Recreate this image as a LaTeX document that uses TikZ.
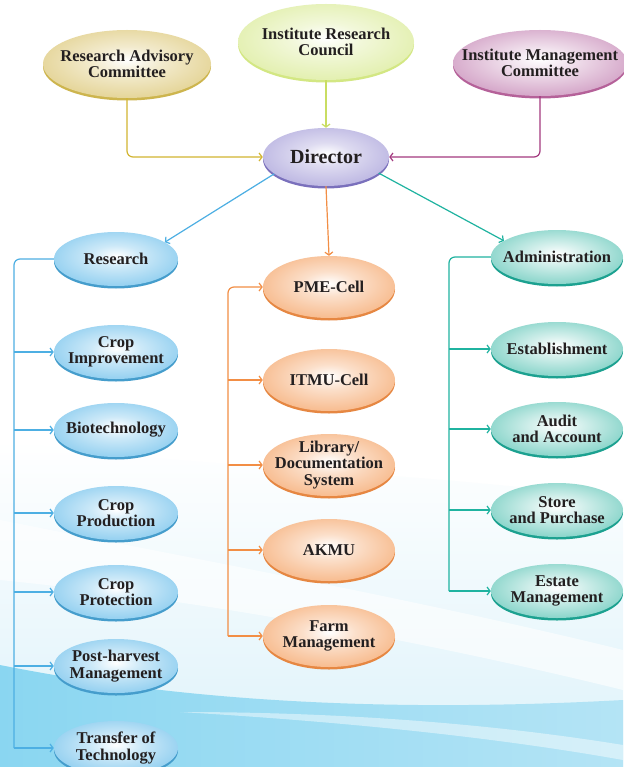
\documentclass[tikz,border=0pt]{standalone}
\usepackage{fontspec}
\setmainfont{Liberation Serif}
\usetikzlibrary{arrows.meta,shapes.geometric,shadows}
\definecolor{txt}{HTML}{231F20}
\definecolor{goldE}{HTML}{D6BD5E}
\definecolor{goldL}{HTML}{D2B531}
\definecolor{goldR}{HTML}{CDB54E}
\definecolor{limeE}{HTML}{D3E783}
\definecolor{limeL}{HTML}{C9DD62}
\definecolor{magE}{HTML}{B05A9A}
\definecolor{magL}{HTML}{A3397F}
\definecolor{dirE}{HTML}{A098D6}
\definecolor{dirR}{HTML}{7A70BC}
\definecolor{bluE}{HTML}{58B6E8}
\definecolor{bluL}{HTML}{4DAFE3}
\definecolor{oraE}{HTML}{F39650}
\definecolor{oraL}{HTML}{F28E45}
\definecolor{tealE}{HTML}{36B7A5}
\definecolor{tealL}{HTML}{1FB3A0}
\definecolor{bgA}{HTML}{DDF2FA}
\definecolor{bgB}{HTML}{8AD6F1}
\definecolor{bgC}{HTML}{B4E4F5}
\pgfdeclareradialshading{shgold}{\pgfpoint{0bp}{3bp}}{color(0bp)=(white); color(10bp)=(goldE!30); color(30bp)=(goldE!70); color(46bp)=(goldE); color(70bp)=(goldE)}
\pgfdeclareradialshading{shlime}{\pgfpoint{0bp}{3bp}}{color(0bp)=(white); color(10bp)=(limeE!30); color(30bp)=(limeE!70); color(46bp)=(limeE); color(70bp)=(limeE)}
\pgfdeclareradialshading{shmag}{\pgfpoint{0bp}{3bp}}{color(0bp)=(white); color(10bp)=(magE!20); color(30bp)=(magE!60); color(46bp)=(magE); color(70bp)=(magE)}
\pgfdeclareradialshading{shdir}{\pgfpoint{0bp}{3bp}}{color(0bp)=(white); color(10bp)=(dirE!35); color(30bp)=(dirE!75); color(46bp)=(dirE); color(70bp)=(dirE)}
\pgfdeclareradialshading{shblu}{\pgfpoint{0bp}{3bp}}{color(0bp)=(white); color(10bp)=(bluE!30); color(30bp)=(bluE!70); color(46bp)=(bluE); color(70bp)=(bluE)}
\pgfdeclareradialshading{shora}{\pgfpoint{0bp}{3bp}}{color(0bp)=(white); color(10bp)=(oraE!30); color(30bp)=(oraE!70); color(46bp)=(oraE); color(70bp)=(oraE)}
\pgfdeclareradialshading{shteal}{\pgfpoint{0bp}{3bp}}{color(0bp)=(white); color(10bp)=(tealE!22); color(30bp)=(tealE!65); color(46bp)=(tealE); color(70bp)=(tealE)}
\tikzset{
  lbl/.style={align=center, font=\bfseries\fontsize{16.5}{16.5}\selectfont, text=txt, inner sep=0pt},
  oval/.style n args={4}{ellipse, inner sep=0pt, minimum width=#1, minimum height=#2, shading=#3,
     drop shadow={shadow xshift=0pt, shadow yshift=-2.5pt, fill=#4, opacity=1}},
  bluebox/.style={oval={124pt}{54pt}{shblu}{bluL!90!black}},
  orabox/.style={oval={132pt}{62pt}{shora}{oraL!95!black}},
  tealbox/.style={oval={132pt}{54pt}{shteal}{tealL!90!black}},
  tip/.style={-{Straight Barb[length=3pt,width=8pt,line width=1.2pt]}},
  ln/.style={line width=1.2pt, #1},
}
\begin{document}
\begin{tikzpicture}[x=1pt,y=-1pt]
\useasboundingbox (0,0) rectangle (623,767);
% background
\fill[white] (0,0) rectangle (623,767);
\shade[top color=white, bottom color=bgA] (0,440) .. controls (200,470) and (420,470) .. (623,500) -- (623,767) -- (0,767) -- cycle;
\fill[white, opacity=0.6] (0,520) .. controls (200,560) and (420,600) .. (623,650) -- (623,690) .. controls (420,640) and (200,600) .. (0,580) -- cycle;
\shade[left color=bgB, right color=bgC] (0,665) .. controls (150,695) and (350,715) .. (623,700) -- (623,767) -- (0,767) -- cycle;
\fill[white, opacity=0.45] (180,712) .. controls (350,712) and (500,725) .. (623,745) -- (623,760) .. controls (500,738) and (350,722) .. (180,712) -- cycle;
% top nodes
\node[oval={168pt}{68pt}{shgold}{goldR}, label={[lbl]center:{Research Advisory\\Committee}}] (rac) at (127,64) {};
\node[oval={176pt}{76pt}{shlime}{limeE}, label={[lbl]center:{Institute Research\\Council}}] (irc) at (326,42) {};
\node[oval={174pt}{66pt}{shmag}{magL!80}, label={[lbl]center:{Institute Management\\Committee}}] (imc) at (540,63) {};
\node[oval={126pt}{58pt}{shdir}{dirR}, label={[lbl, font=\bfseries\fontsize{20}{22}\selectfont]center:{Director}}] (dir) at (326,157) {};
% left column
\node[bluebox, label={[lbl]center:{Research}}] (res) at (116,259) {};
\node[bluebox, label={[lbl]center:{Crop\\Improvement}}] (ci) at (116,352) {};
\node[bluebox, label={[lbl]center:{Biotechnology}}] (bt) at (116,430) {};
\node[bluebox, label={[lbl]center:{Crop\\Production}}] (cpd) at (116,513) {};
\node[bluebox, label={[lbl]center:{Crop\\Protection}}] (cpt) at (116,592) {};
\node[bluebox, label={[lbl]center:{Post-harvest\\Management}}] (ph) at (116,666) {};
\node[bluebox, label={[lbl]center:{Transfer of\\Technology}}] (tt) at (116,748) {};
% middle column
\node[orabox, label={[lbl]center:{PME-Cell}}] (pme) at (329,287) {};
\node[orabox, label={[lbl]center:{ITMU-Cell}}] (itmu) at (329,380) {};
\node[orabox, label={[lbl]center:{Library/\\Documentation\\System}}] (lib) at (329,465) {};
\node[orabox, label={[lbl]center:{AKMU}}] (akmu) at (329,550) {};
\node[orabox, label={[lbl]center:{Farm\\Management}}] (farm) at (329,636) {};
% right column
\node[tealbox, label={[lbl]center:{Administration}}] (adm) at (557,257) {};
\node[tealbox, label={[lbl]center:{Establishment}}] (est) at (557,349) {};
\node[tealbox, label={[lbl]center:{Audit\\and Account}}] (aud) at (557,429) {};
\node[tealbox, label={[lbl]center:{Store\\and Purchase}}] (sto) at (557,510) {};
\node[tealbox, label={[lbl]center:{Estate\\Management}}] (esm) at (557,591) {};
% top connectors
\draw[ln=goldL, tip, rounded corners=6pt] (rac.south) |- (dir.west);
\draw[ln=limeL, tip] (irc.south) -- (dir.north);
\draw[ln=magL, tip, rounded corners=6pt] (imc.south) |- (dir.east);
\draw[ln=bluL, tip] (dir.198) -- (res.19);
\draw[ln=oraL, tip] (dir.south) -- (pme.north);
\draw[ln=tealL, tip] (dir.343) -- (adm.163);
% left bracket
\coordinate (lb) at (14,748);
\draw[ln=bluL, rounded corners=6pt] (res.west) -| (lb);
\draw[ln=bluL, tip] (lb) -- (tt.west);
\foreach \n in {ci,bt,cpd,cpt,ph} \draw[ln=bluL, tip] (lb |- \n.west) -- (\n.west);
% middle bracket
\coordinate (ob) at (228,636);
\draw[ln=oraL, tip, rounded corners=6pt] (ob) |- (pme.west);
\draw[ln=oraL, tip] (ob) -- (farm.west);
\foreach \n in {itmu,lib,akmu} \draw[ln=oraL, tip] (ob |- \n.west) -- (\n.west);
% right bracket
\coordinate (tb) at (449,591);
\draw[ln=tealL, rounded corners=6pt] (adm.west) -| (tb);
\draw[ln=tealL, tip] (tb) -- (esm.west);
\foreach \n in {est,aud,sto} \draw[ln=tealL, tip] (tb |- \n.west) -- (\n.west);
\end{tikzpicture}
\end{document}
